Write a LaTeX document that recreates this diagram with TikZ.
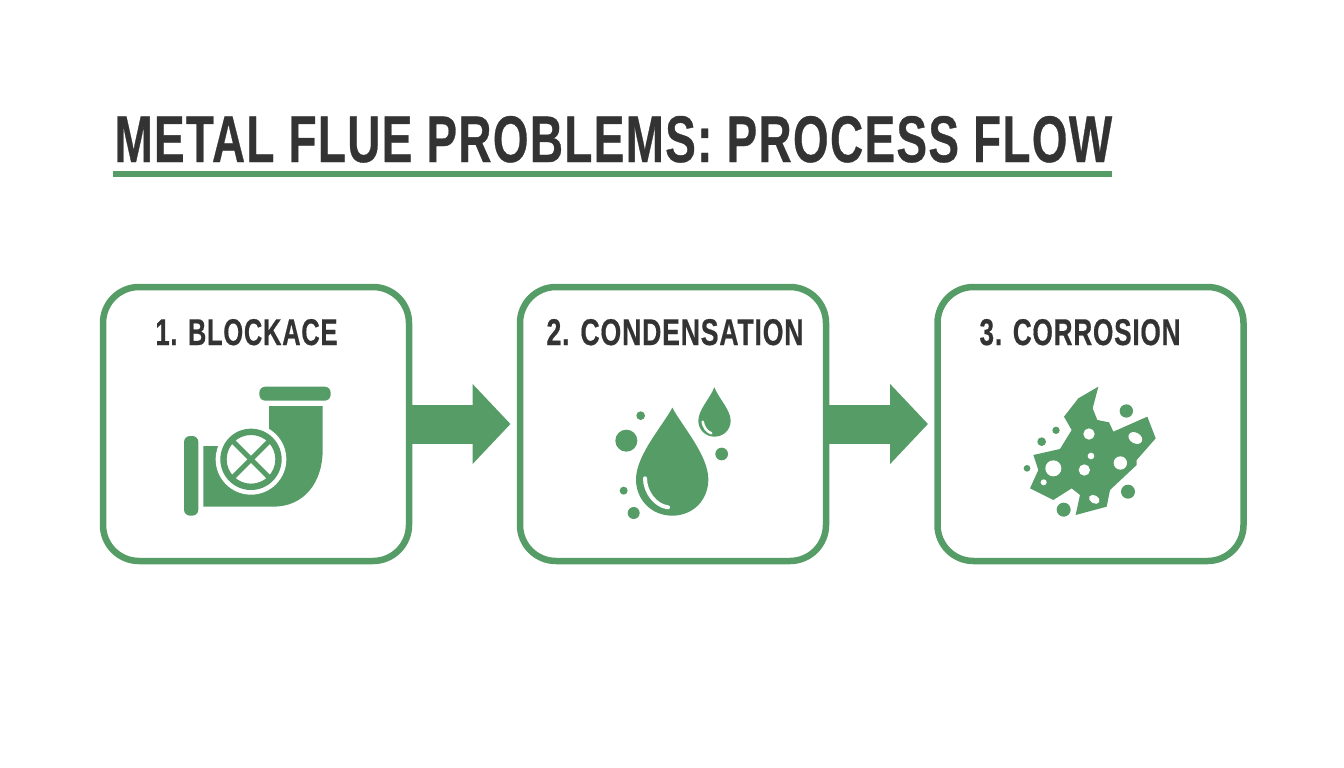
\documentclass[tikz,border=0pt]{standalone}
\usepackage{fontspec}
\usepackage{graphicx}
\setmainfont{Liberation Sans}[BoldFeatures={LetterSpace=3,FakeBold=0.6}]
\usetikzlibrary{arrows.meta}
\definecolor{flue}{HTML}{559C67}
\definecolor{ink}{HTML}{333333}
\newcommand{\fitted}[3]{\resizebox{#1pt}{#2pt}{\bfseries #3}}
\tikzset{
  card/.style={draw=flue,line width=6.5pt,rounded corners=36pt,minimum width=306pt,minimum height=274pt,inner sep=0pt,outer sep=0pt,fill=white},
  label/.style={anchor=base west,inner sep=0pt,outer sep=0pt,text=ink},
  flow/.style={draw=flue,line width=39pt,shorten >=9.5pt,-{Triangle[length=38pt,width=78pt]}},
  hole/.style={fill=white},
  blob/.style={fill=flue}
}
\begin{document}
\begin{tikzpicture}[x=1pt,y=-1pt]
\useasboundingbox (0,0) rectangle (1344,768);
\fill[white] (0,0) rectangle (1344,768);
% title
\node[label] (title) at (114.5,162) {\fitted{997.5}{46}{METAL FLUE PROBLEMS: PROCESS FLOW}};
\fill[flue] (113,171) rectangle (1112,177);
% cards
\node[card] (b1) at (256,424) {};
\node[card] (b2) at (673,424) {};
\node[card] (b3) at (1090.5,424) {};
\draw[flow] (b1.east) -- (b2.west);
\draw[flow] (b2.east) -- (b3.west);
\node[label] (t1) at (155.5,345) {\fitted{182}{26}{1. BLOCKACE}};
\node[label] (t2) at (546.5,345) {\fitted{257}{26}{2. CONDENSATION}};
\node[label] (t3) at (979.5,345) {\fitted{201}{26}{3. CORROSION}};
% pipe
\begin{scope}[shift={(170,370)},scale=1/3]
  \fill[blob,rounded corners=6pt] (42,198) rectangle (85,437);
  \fill[blob,rounded corners=6pt] (268,50) rectangle (482,92);
  \fill[blob] (100,228) -- (240,228) -- (297,185) -- (297,108) -- (458,108) -- (458,240)
     .. controls (458,340) and (400,410) .. (310,410) -- (100,410) -- cycle;
  \fill[white] (243,268) circle (106);
  \fill[blob,even odd rule] (243,268) circle (92) (243,268) circle (73);
  \draw[flue,line width=5pt] (243,268) ++(45:76) -- ++(225:152);
  \draw[flue,line width=5pt] (243,268) ++(135:76) -- ++(315:152);
\end{scope}
% drops
\begin{scope}[shift={(600,375)},scale=1/3]
  \fill[blob] (217,98) .. controls (190,150) and (108,240) .. (108,313)
     .. controls (108,375) and (155,422) .. (217,422)
     .. controls (279,422) and (325,375) .. (325,313)
     .. controls (325,240) and (244,150) .. (217,98) -- cycle;
  \draw[white,line width=4pt,line cap=round] (135,310) .. controls (135,350) and (165,392) .. (204,397);
  \fill[blob] (343,37) .. controls (330,70) and (295,105) .. (295,137)
     .. controls (295,165) and (317,185) .. (343,185)
     .. controls (370,185) and (392,165) .. (392,137)
     .. controls (392,105) and (356,70) .. (343,37) -- cycle;
  \draw[white,line width=2.5pt,line cap=round] (308,140) .. controls (310,155) and (320,170) .. (334,175);
  \fill[blob] (122,122) circle (13);
  \fill[blob] (79,197) circle (33);
  \fill[blob] (365,237) circle (19);
  \fill[blob] (71,347) circle (12);
  \fill[blob] (101,414) circle (18);
\end{scope}
% corrosion
\begin{scope}[shift={(1010,375)},scale=1/3]
  \fill[blob] (265,35) -- (205,70) -- (162,125) -- (185,165) -- (150,222) -- (70,240) -- (85,285)
    -- (60,340) -- (130,375) -- (185,340) -- (210,360) -- (197,420) -- (290,395) -- (300,345)
    -- (380,270) -- (380,255) -- (437,190) -- (412,125) -- (310,170) -- (297,142) -- (262,135)
    -- (248,100) -- cycle;
  \fill[hole] (237,177) circle (17);
  \fill[hole] (243,243) circle (10);
  \fill[hole] (130,280) circle (24);
  \fill[hole] (223,285) circle (17);
  \fill[hole] (331,264) circle (20);
  \fill[hole,rotate around={-30:(376,189)}] (376,189) ellipse (22 and 16);
  \fill[hole] (101,322) circle (9);
  \fill[hole,rotate around={-30:(253,373)}] (253,373) ellipse (17 and 12);
  \fill[blob] (349,108) circle (20);
  \fill[blob] (138,166) circle (11);
  \fill[blob] (95,200) circle (13);
  \fill[blob] (51,280) circle (10);
  \fill[blob] (354,350) circle (21);
  \fill[blob] (161,404) circle (21);
\end{scope}
\end{tikzpicture}
\end{document}
